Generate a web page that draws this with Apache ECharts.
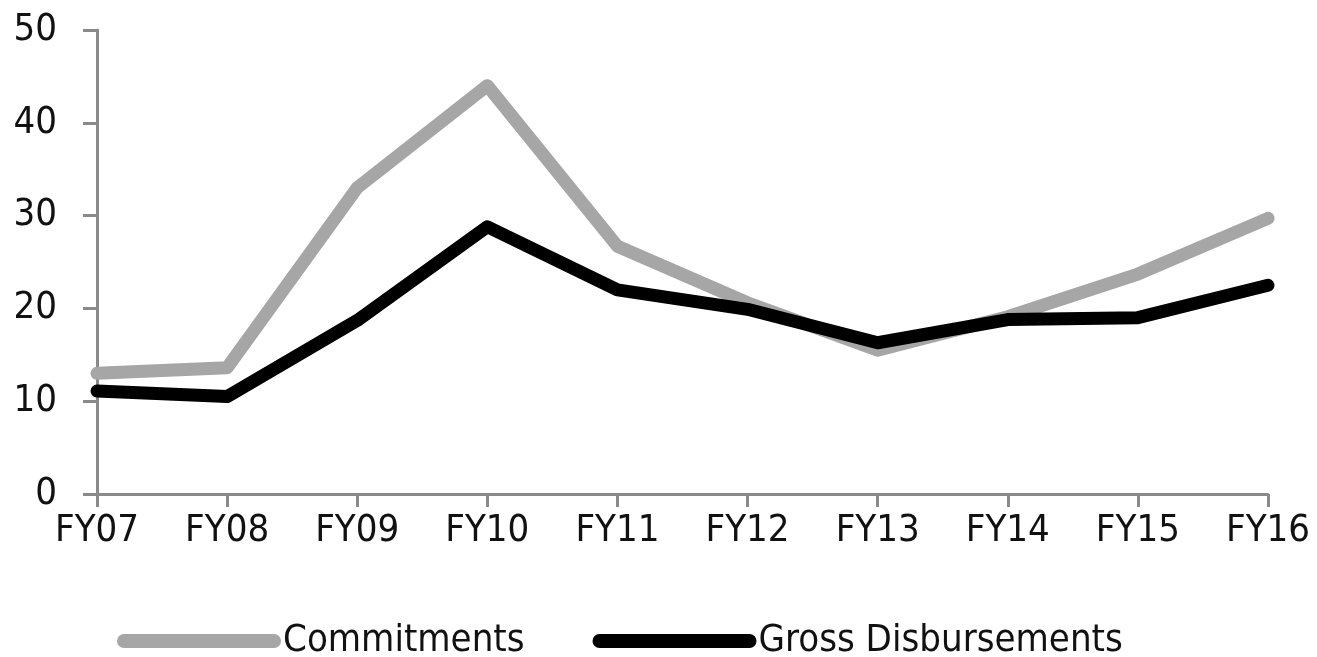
<!DOCTYPE html>
<html>
<head>
<meta charset="utf-8">
<script src="https://cdn.jsdelivr.net/npm/echarts@6/dist/echarts.min.js"></script>
<style>
html,body{margin:0;padding:0;background:#fff;}
#chart{width:1317px;height:657px;}
</style>
</head>
<body>
<div id="chart"></div>
<script>
var categories = ['FY07','FY08','FY09','FY10','FY11','FY12','FY13','FY14','FY15','FY16'];
var commitments = [13.0, 13.6, 33.0, 44.0, 26.7, 20.6, 15.5, 19.1, 23.7, 29.7];
var grossDisbursements = [11.1, 10.5, 18.7, 28.8, 22.0, 19.9, 16.3, 18.8, 19.0, 22.5];
var yTicks = [0, 10, 20, 30, 40, 50];

var FONT = "'Liberation Sans Narrow', 'DejaVu Sans Condensed', 'Liberation Sans', sans-serif";
var axisColor = '#8a8a8a';

var chart = echarts.init(document.getElementById('chart'), null, {renderer: 'canvas'});
chart.setOption({
  animation: false,
  backgroundColor: '#ffffff',
  grid: {left: 97, right: 49, top: 30, bottom: 163, containLabel: false},
  legend: {
    left: 112,
    top: 617,
    itemWidth: 150,
    itemHeight: 14,
    itemGap: 68,
    textStyle: {fontFamily: FONT, fontSize: 38, color: '#111', padding: [0,0,0,4]},
    lineStyle: {width: 14, cap: 'round'},
    data: ['Commitments', 'Gross Disbursements']
  },
  xAxis: {
    type: 'category',
    data: categories,
    boundaryGap: false,
    axisLine: {lineStyle: {color: axisColor, width: 3}},
    axisTick: {show: true, length: 13, alignWithLabel: true, lineStyle: {color: axisColor, width: 3}},
    axisLabel: {fontFamily: FONT, fontSize: 38, color: '#111', margin: 18, interval: 0},
    splitLine: {show: false}
  },
  yAxis: {
    type: 'value',
    min: yTicks[0],
    max: yTicks[yTicks.length - 1],
    interval: 10,
    axisLine: {show: true, lineStyle: {color: axisColor, width: 3}},
    axisTick: {show: true, length: 14, lineStyle: {color: axisColor, width: 3}},
    axisLabel: {fontFamily: FONT, fontSize: 38, color: '#111', margin: 40},
    splitLine: {show: false}
  },
  series: [
    {
      name: 'Commitments',
      type: 'line',
      data: commitments,
      symbol: 'none',
      showSymbol: false,
      itemStyle: {color: '#a6a6a6'},
      lineStyle: {color: '#a6a6a6', width: 13, cap: 'round', join: 'round'},
      z: 2
    },
    {
      name: 'Gross Disbursements',
      type: 'line',
      data: grossDisbursements,
      symbol: 'none',
      showSymbol: false,
      itemStyle: {color: '#000000'},
      lineStyle: {color: '#000000', width: 13, cap: 'round', join: 'round'},
      z: 3
    }
  ]
});
</script>
</body>
</html>
